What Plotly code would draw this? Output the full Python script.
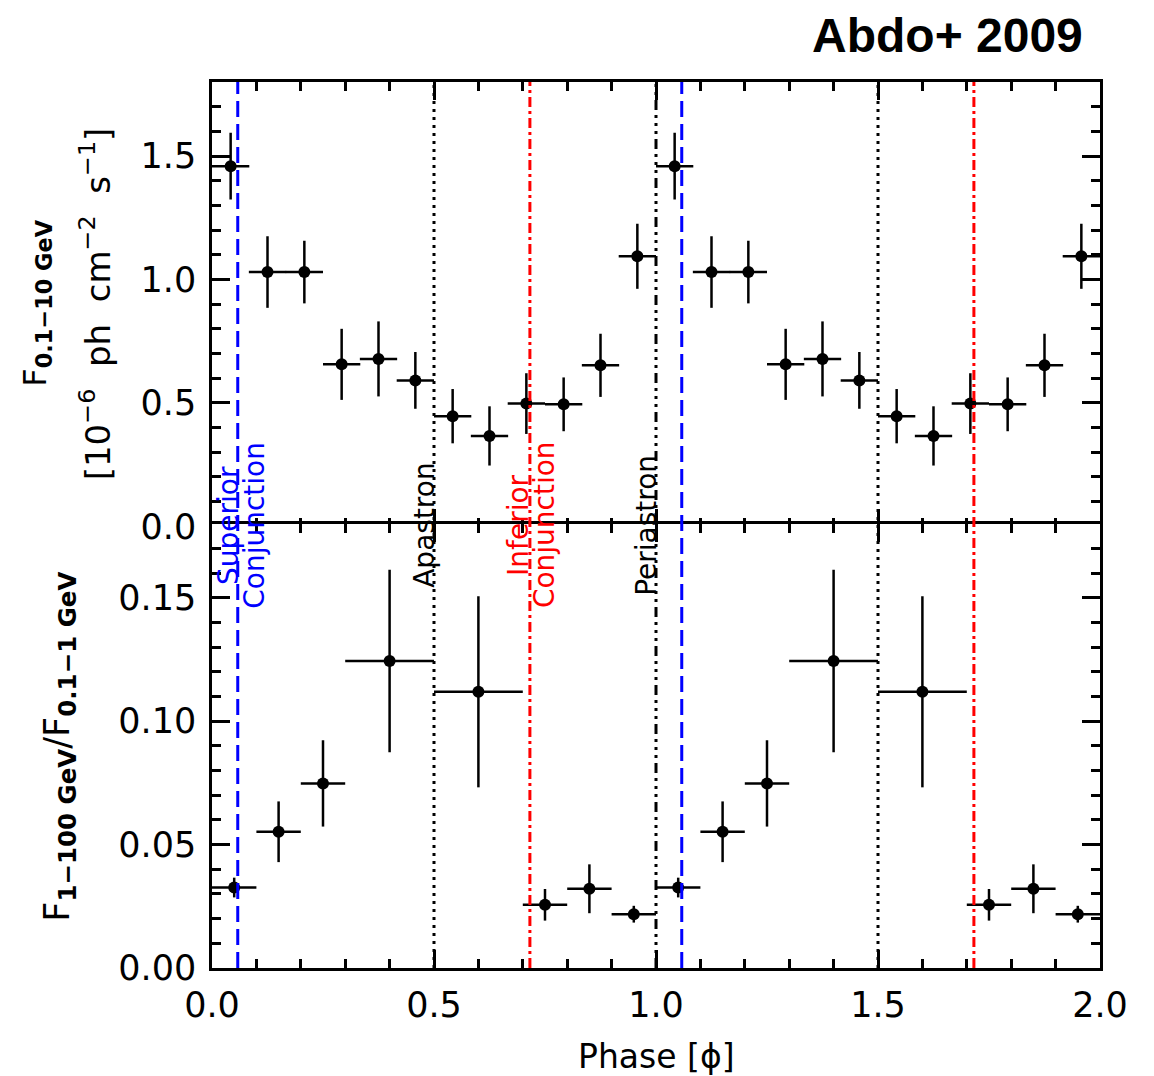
import plotly.graph_objects as go
from plotly.subplots import make_subplots

# ---------------- data ----------------
flux_phase = [0.042, 0.125, 0.208, 0.292, 0.375, 0.458, 0.542, 0.625, 0.708, 0.792, 0.875, 0.958]
flux_halfwidth = [0.042] * 12
flux_value = [1.459, 1.030, 1.030, 0.656, 0.678, 0.591, 0.446, 0.366, 0.497, 0.494, 0.652, 1.094]
flux_err = [0.135, 0.145, 0.127, 0.144, 0.152, 0.115, 0.110, 0.120, 0.123, 0.109, 0.128, 0.132]

hr_phase = [0.05, 0.15, 0.25, 0.40, 0.60, 0.75, 0.85, 0.95]
hr_halfwidth = [0.05, 0.05, 0.05, 0.10, 0.10, 0.05, 0.05, 0.05]
hr_value = [0.0326, 0.0552, 0.0748, 0.1244, 0.1119, 0.0256, 0.0321, 0.0218]
hr_err = [0.0040, 0.0123, 0.0175, 0.0370, 0.0387, 0.0064, 0.0099, 0.0034]

event_phase = [0.058, 0.5, 0.716, 1.0]
event_color = ["#0000ff", "#000000", "#ff0000", "#000000"]
event_dash = ["16px,7px", "3px,5px", "10px,4px,3px,4px", "10px,5px,3px,5px,3px,5px,3px,5px"]

x_ticks = [0.0, 0.5, 1.0, 1.5, 2.0]
flux_ticks = [0.0, 0.5, 1.0, 1.5]
hr_ticks = [0.00, 0.05, 0.10, 0.15]

FONT = "DejaVu Sans"
PLOT_H = 1076 - 82 - 108
LW = 2.5
eps = (LW / 2) / PLOT_H

fig = make_subplots(rows=2, cols=1, shared_xaxes=True, vertical_spacing=0)

def two_cycles(v, shift):
    return [a for a in v] + [a + shift for a in v]

# flux panel
fig.add_trace(go.Scatter(
    x=two_cycles(flux_phase, 1.0), y=flux_value + flux_value,
    mode="markers",
    marker=dict(color="black", size=12),
    error_x=dict(type="data", array=flux_halfwidth + flux_halfwidth, color="black", thickness=2.5, width=0),
    error_y=dict(type="data", array=flux_err + flux_err, color="black", thickness=2.5, width=0),
    showlegend=False, cliponaxis=False), row=1, col=1)

# hardness panel
fig.add_trace(go.Scatter(
    x=two_cycles(hr_phase, 1.0), y=hr_value + hr_value,
    mode="markers",
    marker=dict(color="black", size=12),
    error_x=dict(type="data", array=hr_halfwidth + hr_halfwidth, color="black", thickness=2.5, width=0),
    error_y=dict(type="data", array=hr_err + hr_err, color="black", thickness=2.5, width=0),
    showlegend=False, cliponaxis=False), row=2, col=1)

# event lines across both panels
for ph, col, dash in zip(event_phase, event_color, event_dash):
    for k in (0.0, 1.0):
        xv = ph + k
        if xv >= 2.0:
            continue
        fig.add_shape(type="line", xref="x2", yref="paper", x0=xv, x1=xv, y0=0, y1=1,
                      line=dict(color=col, width=3, dash=dash), layer="above")

# event labels (rotated)
lab_font = 28
labels = [
    ("Superior", 0.036, "#0000ff"), ("Conjunction", 0.094, "#0000ff"),
    ("Apastron", 0.477, "#000000"),
    ("Inferior", 0.689, "#ff0000"), ("Conjunction", 0.748, "#ff0000"),
    ("Periastron", 0.977, "#000000"),
]
for txt, xv, col in labels:
    fig.add_annotation(text=txt, x=xv, xref="x2", y=0.5, yref="paper",
                       textangle=-90, showarrow=False, xanchor="center", yanchor="middle",
                       font=dict(family=FONT, size=lab_font, color=col))

axis_common = dict(showline=True, linecolor="black", linewidth=LW, mirror="ticks",
                   ticks="inside", tickcolor="black", tickwidth=2.5, ticklen=18,
                   showgrid=False, zeroline=False,
                   tickfont=dict(family=FONT, size=35, color="black"))

fig.update_xaxes(range=[0, 2], tickvals=x_ticks, tickformat=".1f",
                 minor=dict(ticks="inside", dtick=0.1, ticklen=9, tickwidth=2.5, tickcolor="black", showgrid=False),
                 **axis_common)
fig.update_xaxes(showticklabels=False, row=1, col=1)
fig.update_xaxes(showticklabels=True, ticklabelstandoff=4, row=2, col=1)

fig.update_yaxes(range=[0, 1.8], tickvals=flux_ticks, tickformat=".1f", domain=[0.5 - eps, 1.0],
                 minor=dict(ticks="inside", dtick=0.1, ticklen=9, tickwidth=2.5, tickcolor="black", showgrid=False),
                 ticklabelstandoff=6, row=1, col=1, **axis_common)
fig.update_yaxes(range=[0, 0.18], tickvals=hr_ticks, tickformat=".2f", domain=[0.0, 0.5 + eps],
                 minor=dict(ticks="inside", dtick=0.01, ticklen=9, tickwidth=2.5, tickcolor="black", showgrid=False),
                 ticklabelstandoff=6, row=2, col=1, **axis_common)

# axis titles as annotations
nb = "\u00a0"
fig.add_annotation(text="F<sub><b>0.1\u221210 GeV</b></sub>", xref="paper", yref="paper",
                   x=-0.198, y=0.75, textangle=-90, showarrow=False, xanchor="center", yanchor="middle",
                   font=dict(family=FONT, size=32, color="black"))
fig.add_annotation(text=f"[10<sup>\u22126</sup>{nb}{nb}ph{nb}{nb}cm<sup>\u22122</sup>{nb}{nb}s<sup>\u22121</sup>]",
                   xref="paper", yref="paper",
                   x=-0.132, y=0.75, textangle=-90, showarrow=False, xanchor="center", yanchor="middle",
                   font=dict(family=FONT, size=34, color="black"))
fig.add_annotation(text="F<sub><b>1\u2212100 GeV</b></sub>/F<sub><b>0.1\u22121 GeV</b></sub>", xref="paper", yref="paper",
                   x=-0.172, y=0.25, textangle=-90, showarrow=False, xanchor="center", yanchor="middle",
                   font=dict(family=FONT, size=35, color="black"))
fig.add_annotation(text="Phase [\u03d5]", xref="paper", yref="paper",
                   x=0.5, y=-0.1, showarrow=False, xanchor="center", yanchor="middle",
                   font=dict(family=FONT, size=33, color="black"))
fig.add_annotation(text="<b>Abdo+ 2009</b>", xref="paper", yref="paper",
                   x=0.983, y=1.053, showarrow=False, xanchor="right", yanchor="middle",
                   font=dict(family="Liberation Sans, Arial", size=48, color="black"))

fig.update_layout(width=1154, height=1076, margin=dict(l=212, r=54, t=82, b=108),
                  paper_bgcolor="white", plot_bgcolor="white", showlegend=False)

fig.write_html("out.html", config={"displayModeBar": False},
               post_script="document.body.style.margin='0';document.body.style.padding='0';")
